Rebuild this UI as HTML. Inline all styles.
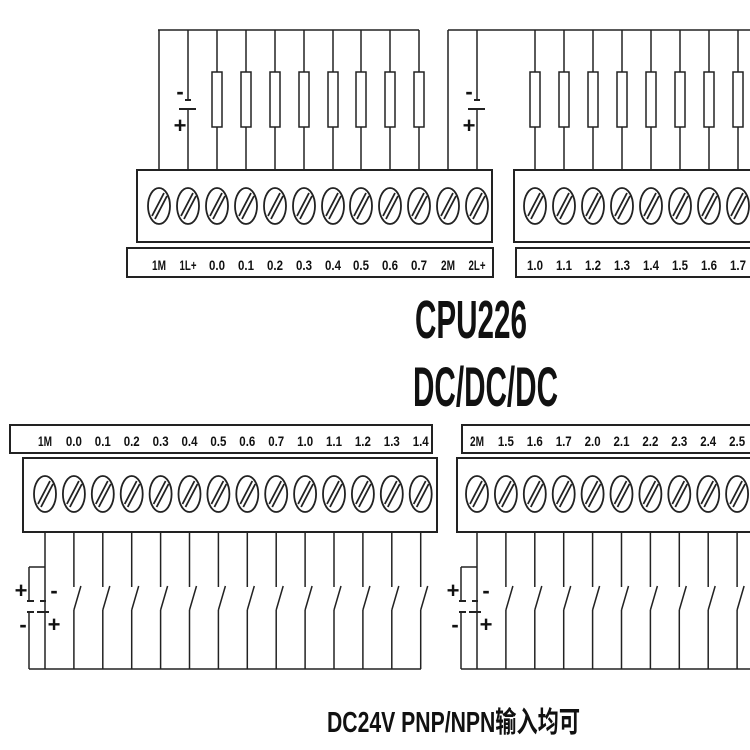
<!DOCTYPE html>
<html><head><meta charset="utf-8"><style>
html,body{margin:0;padding:0;background:#fff;}
svg{display:block}
.l{font-family:"Liberation Sans",sans-serif;font-weight:bold;font-size:14px;text-anchor:middle;fill:#111}
</style></head><body>
<svg id="s" width="750" height="750" viewBox="0 0 750 750" xmlns="http://www.w3.org/2000/svg" stroke="#222" stroke-width="1.5" fill="none">
<text x="415" y="338" textLength="112" lengthAdjust="spacingAndGlyphs" style="font-family:'Liberation Sans',sans-serif;font-weight:bold;font-size:54px" fill="#111" stroke="none">CPU226</text>
<text x="413" y="406" textLength="145" lengthAdjust="spacingAndGlyphs" style="font-family:'Liberation Sans',sans-serif;font-weight:bold;font-size:56px" fill="#111" stroke="none">DC/DC/DC</text>
<text x="327" y="732" textLength="253" lengthAdjust="spacingAndGlyphs" style="font-family:'Liberation Sans','Noto Sans CJK SC',sans-serif;font-weight:bold;font-size:29px" fill="#111" stroke="none">DC24V PNP/NPN输入均可</text>
</svg>
<script>
var s=document.getElementById('s'),NS='http://www.w3.org/2000/svg';
function e(t,a,txt){var n=document.createElementNS(NS,t);for(var k in a)n.setAttribute(k,a[k]);if(txt)n.textContent=txt;s.appendChild(n);return n;}
function L(x1,y1,x2,y2,w){e('line',{x1:x1,y1:y1,x2:x2,y2:y2,'stroke-width':w||1.5});}
function R(x,y,w,h,sw){e('rect',{x:x,y:y,width:w,height:h,'stroke-width':sw||2});}
function screw(x,y){e('ellipse',{cx:x,cy:y,rx:11,ry:18,'stroke-width':1.8});L(x-7,y+10,x+5,y-13,1.8);L(x-4,y+13,x+8,y-10,1.8);}
function lab(x,y,t){var w=/M/.test(t)?14:(/L/.test(t)?17:16);e('text',{x:x,y:y,'class':'l',stroke:'none',textLength:w,lengthAdjust:'spacingAndGlyphs'},t);}
function sign(x,y,t){e('text',{x:x,y:y,stroke:'none',fill:'#111',style:'font-family:Liberation Sans,sans-serif;font-weight:bold;font-size:22px;text-anchor:middle'},t);}
R(137,170,355,72);R(127,248,366,29);
var tl=[159,188,217,246,275,304,333,361,390,419,448,477],tln=['1M','1L+','0.0','0.1','0.2','0.3','0.4','0.5','0.6','0.7','2M','2L+'];
tl.forEach(function(x,i){screw(x,206);lab(x,270,tln[i]);});
L(158,30,419,30);L(159,30,159,170);
for(var i=2;i<10;i++){var x=tl[i];L(x,30,x,72);R(x-5,72,10,55,1.5);L(x,127,x,170);}
function bat(x){L(x,30,x,100);L(x-3,100,x+3,100,2);L(x-9,109,x+8,109,2);L(x,109,x,170);sign(x-8,99,'-');sign(x-8,133,'+');}
bat(188);bat(477);
L(448,30,750,30);L(448,30,448,170);
R(514,170,240,72);R(516,248,240,29);
var tr=['1.0','1.1','1.2','1.3','1.4','1.5','1.6','1.7'];
tr.forEach(function(t,i){var x=535+i*29;screw(x,206);lab(x,270,t);L(x,30,x,72);R(x-5,72,10,55,1.5);L(x,127,x,170);});
function bottom(x0,bx,bw,lx,lw,names,endx){
 R(lx,425,lw,28);R(bx,458,bw,74);
 names.forEach(function(t,i){var x=x0+i*28.9;screw(x,494);lab(x,446,t);
  if(i==0){L(x,532,x,669);}else{L(x,532,x,587);L(x+7,586,x,610);L(x,610,x,669);}});
 var x=x0;L(x,567,x-16,567);L(x-16,567,x-16,600);L(x-18,601,x-11,601,2);L(x-5,601,x+1,601,2);
 L(x-18,612,x-11,612,2);L(x-8,612,x+4,612,2);L(x-16,612,x-16,669);L(x-16,669,endx,669);
 sign(x-24,598,'+');sign(x+9,598,'-');sign(x-22,632,'-');sign(x+9,632,'+');
}
bottom(45,23,414,10,422,['1M','0.0','0.1','0.2','0.3','0.4','0.5','0.6','0.7','1.0','1.1','1.2','1.3','1.4'],421);
bottom(477,457,300,462,300,['2M','1.5','1.6','1.7','2.0','2.1','2.2','2.3','2.4','2.5'],750);
</script>
</body></html>
